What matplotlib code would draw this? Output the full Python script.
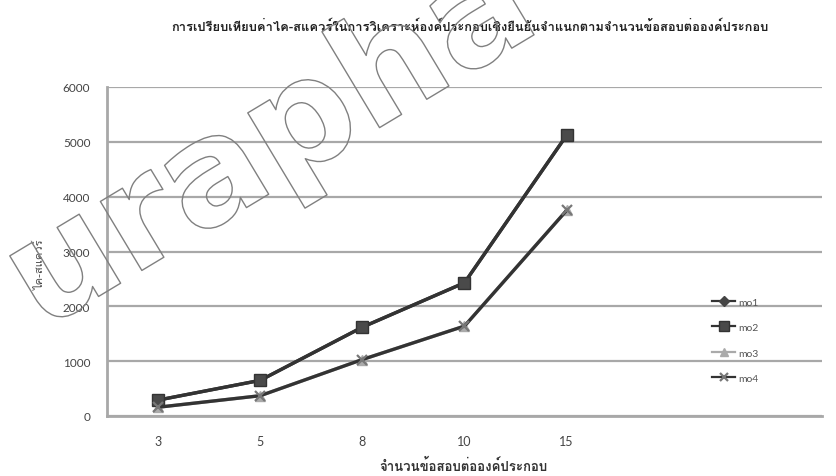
import matplotlib
matplotlib.use("Agg")
import matplotlib.pyplot as plt
from matplotlib import font_manager as fm
from matplotlib.ft2font import FT2Font
import matplotlib.patheffects as pe

# ---------------- data ----------------
categories = ["3", "5", "8", "10", "15", "", ""]
mo1 = [290, 650, 1620, 2430, 5120]
mo2 = [290, 650, 1620, 2430, 5120]
mo3 = [160, 370, 1030, 1640, 3750]
mo4 = [160, 370, 1030, 1640, 3750]
series_names = ["mo1", "mo2", "mo3", "mo4"]
y_ticks = [0, 1000, 2000, 3000, 4000, 5000, 6000]

title = "การเปรียบเทียบค่าไค-สแควร์ในการวิเคราะห์องค์ประกอบเชิงยืนยันจำแนกตามจำนวนข้อสอบต่อองค์ประกอบ"
xlabel = "จำนวนข้อสอบต่อองค์ประกอบ"
ylabel = "ไค-สแควร์"
watermark = "urapha"

# ---------------- fonts ----------------
thai_family = None
for f in fm.fontManager.ttflist:
    try:
        cmap = FT2Font(f.fname).get_charmap()
        if 0x0E01 in cmap and 0x0E48 in cmap and 0x0E2A in cmap:
            thai_family = f.name
            break
    except Exception:
        pass
thai_fam = [thai_family, "DejaVu Sans"] if thai_family else ["DejaVu Sans"]
num_fam = ["Lato", "DejaVu Sans"]

fig = plt.figure(figsize=(8.37, 4.77), dpi=100)
ax = fig.add_axes([107 / 837, 1 - 417 / 477, (822 - 107) / 837, (417 - 88) / 477])

x = list(range(len(categories)))
n = len(mo1)
ax.plot(x[:n], mo1, color="#333333", lw=2.4, marker="D", ms=6, mfc="#444444", mec="#444444", label=series_names[0], zorder=3)
ax.plot(x[:n], mo2, color="#333333", lw=2.4, marker="s", ms=8, mfc="#4a4a4a", mec="#333333", label=series_names[1], zorder=4)
ax.plot(x[:n], mo3, color="#aaaaaa", lw=2.4, marker="^", ms=7, mfc="#aaaaaa", mec="#aaaaaa", label=series_names[2], zorder=3)
ax.plot(x[:n], mo4, color="#333333", lw=2.4, marker="x", ms=7, mew=1.6, mec="#777777", label=series_names[3], zorder=4)

ax.set_xlim(-0.5, len(categories) - 0.5)
ax.set_ylim(0, 6000)
ax.set_yticks(y_ticks)
ax.set_yticklabels([str(v) for v in y_ticks], family=num_fam, fontsize=8.5, color="#444444")
ax.set_xticks(x)
ax.set_xticklabels(categories, family=num_fam, fontsize=9, color="#444444")
ax.tick_params(axis="both", length=0, pad=12)
ax.tick_params(axis="x", pad=14)

ax.grid(axis="y", color="#a8a8a8", lw=1.6)
ax.set_axisbelow(True)
for s in ["top", "right"]:
    ax.spines[s].set_visible(False)
ax.spines["left"].set_color("#a8a8a8")
ax.spines["left"].set_linewidth(2)
ax.spines["bottom"].set_color("#a8a8a8")
ax.spines["bottom"].set_linewidth(2)

leg = ax.legend(loc="upper left", bbox_to_anchor=((703 - 107) / 715, (417 - 289) / 329),
                frameon=False, prop={"family": num_fam, "size": 7.5},
                handlelength=2.2, labelspacing=1.55, handletextpad=0.25, markerscale=0.9)
for line in leg.get_lines():
    line.set_linewidth(1.6)
for t in leg.get_texts():
    t.set_color("#555555")

fig.text(470 / 837, 1 - 27 / 477, title, family=thai_fam, fontsize=9.3, fontweight="bold",
         ha="center", va="center", color="#222222")
fig.text(463 / 837, 1 - 466 / 477, xlabel, family=thai_fam, fontsize=9.5, fontweight="bold",
         ha="center", va="center", color="#333333")
fig.text(40 / 837, 1 - 265 / 477, ylabel, family=thai_fam, fontsize=8, rotation=90,
         ha="center", va="center", color="#444444")

fig.text(272 / 837, 1 - 146 / 477, watermark, family=["DejaVu Sans"], fontsize=106,
         fontweight="bold", rotation=31, ha="center", va="center", color="none",
         path_effects=[pe.Stroke(linewidth=1.0, foreground="#808080")], zorder=10)

fig.savefig("out.png", dpi=100)
